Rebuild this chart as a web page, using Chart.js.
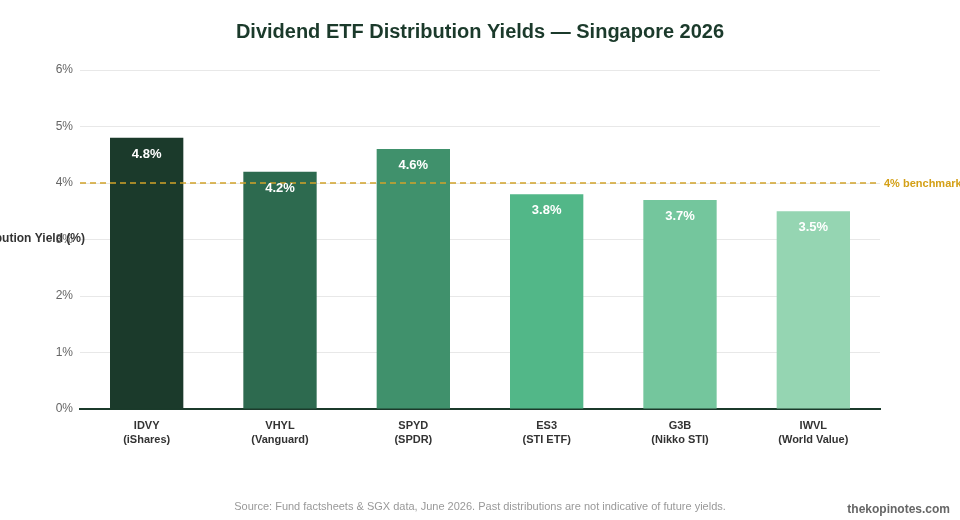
<!DOCTYPE html>
<html>
<head>
<meta charset="utf-8">
<script src="https://cdn.jsdelivr.net/npm/chart.js@4/dist/chart.umd.min.js"></script>
<style>
  html, body { margin: 0; padding: 0; background: #ffffff; }
  #wrap { width: 960px; height: 520px; position: relative; }
</style>
</head>
<body>
<div id="wrap"><canvas id="c" width="960" height="520"></canvas></div>
<script>
const tickers = ["IDVY", "VHYL", "SPYD", "ES3", "G3B", "IWVL"];
const issuers = ["(iShares)", "(Vanguard)", "(SPDR)", "(STI ETF)", "(Nikko STI)", "(World Value)"];
const yields = [4.8, 4.2, 4.6, 3.8, 3.7, 3.5];
const barColors = ["#1b3a2b", "#2d6a4f", "#40916c", "#52b788", "#74c69d", "#95d5b2"];
const benchmark = 4;
const yTicks = [0, 1, 2, 3, 4, 5, 6];

const FONT = "'Liberation Sans', Arial, Helvetica, sans-serif";

const overlay = {
  id: "overlay",
  afterDatasetsDraw(chart) {
    const ctx = chart.ctx;
    const area = chart.chartArea;
    const y = chart.scales.y;
    // benchmark line
    const by = y.getPixelForValue(benchmark);
    ctx.save();
    ctx.strokeStyle = "#d1a32a";
    ctx.lineWidth = 1.5;
    ctx.setLineDash([6, 4]);
    ctx.beginPath();
    ctx.moveTo(area.left, by);
    ctx.lineTo(area.right, by);
    ctx.stroke();
    ctx.setLineDash([]);
    ctx.fillStyle = "#d4a017";
    ctx.font = "bold 11px " + FONT;
    ctx.textAlign = "left";
    ctx.textBaseline = "middle";
    ctx.fillText(benchmark + "% benchmark", area.right + 4, by + 1);
    // value labels
    const meta = chart.getDatasetMeta(0);
    ctx.fillStyle = "#ffffff";
    ctx.font = "bold 13px " + FONT;
    ctx.textAlign = "center";
    meta.data.forEach((bar, i) => {
      ctx.fillText(yields[i].toFixed(1) + "%", bar.x, bar.y + 16.5);
    });
    // horizontal y-axis title (clipped at left, as in reference)
    ctx.fillStyle = "#333333";
    ctx.font = "bold 12px " + FONT;
    ctx.textAlign = "right";
    ctx.fillText("Distribution Yield (%)", 85, (area.top + area.bottom) / 2 - 1);
    ctx.restore();
  },
  afterDraw(chart) {
    const ctx = chart.ctx;
    ctx.save();
    ctx.fillStyle = "#1b3a2b";
    ctx.font = "bold 20px " + FONT;
    ctx.textAlign = "center";
    ctx.textBaseline = "middle";
    ctx.fillText("Dividend ETF Distribution Yields \u2014 Singapore 2026", 480, 32);
    ctx.fillStyle = "#999999";
    ctx.font = "11px " + FONT;
    ctx.fillText("Source: Fund factsheets & SGX data, June 2026. Past distributions are not indicative of future yields.", 480, 507);
    ctx.fillStyle = "#666666";
    ctx.font = "bold 12px " + FONT;
    ctx.textAlign = "right";
    ctx.fillText("thekopinotes.com", 950, 510);
    ctx.restore();
  }
};

new Chart(document.getElementById("c"), {
  type: "bar",
  data: {
    labels: tickers.map((t, i) => [t, issuers[i]]),
    datasets: [{
      data: yields,
      backgroundColor: barColors,
      borderWidth: 0,
      categoryPercentage: 1,
      barPercentage: 0.55
    }]
  },
  options: {
    responsive: false,
    animation: false,
    layout: { padding: { top: 70, right: 80, bottom: 0, left: 0 } },
    plugins: {
      legend: { display: false },
      title: { display: false },
      tooltip: { enabled: false }
    },
    scales: {
      x: {
        grid: { display: false, drawTicks: false },
        border: { display: true, color: "#1b3a2b", width: 2 },
        ticks: {
          color: "#333333",
          font: { family: FONT, size: 11, weight: "bold", lineHeight: 1.3 },
          padding: 10,
          maxRotation: 0
        },
        afterFit(scale) { scale.height = 111; }
      },
      y: {
        min: 0,
        max: 6,
        afterBuildTicks(scale) { scale.ticks = yTicks.map(v => ({ value: v })); },
        grid: { color: "#e8e8e8", drawTicks: false },
        border: { display: false },
        ticks: {
          color: "#666666",
          font: { family: FONT, size: 12 },
          padding: 7,
          callback: v => v + "%"
        },
        afterFit(scale) { scale.width = 80; }
      }
    }
  },
  plugins: [overlay]
});
</script>
</body>
</html>
